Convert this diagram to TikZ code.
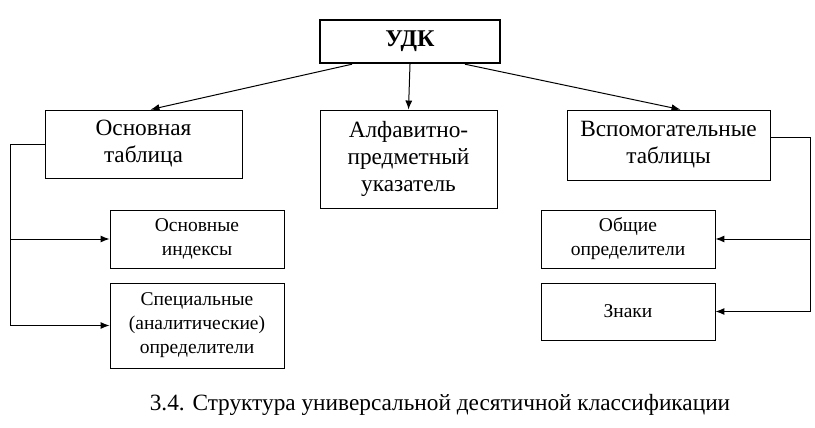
\documentclass[tikz,border=0pt]{standalone}
\usepackage{fontspec}
\setmainfont{Liberation Serif}
\usetikzlibrary{arrows.meta}
\begin{document}
\begin{tikzpicture}[x=1pt,y=-1pt,
  box/.style={draw,line width=0.9pt,align=center,inner sep=0pt},
  big/.style={box,font=\fontsize{23.3}{27}\selectfont},
  small/.style={box,font=\fontsize{19.5}{24}\selectfont},
  arr/.style={-{Latex[length=9pt,width=7pt]},line width=1pt},
  ln/.style={line width=0.9pt}]
\useasboundingbox (0,0) rectangle (815,428);
\node[box,line width=2.4pt,minimum width=180,minimum height=43,font=\fontsize{24}{28}\selectfont\bfseries] (udk) at (410,41.5) {УДК};
\node[big,minimum width=197,minimum height=68] (osn) at (143.5,144) {Основная\\таблица};
\node[big,minimum width=177,minimum height=98] (alf) at (408.5,159) {Алфавитно-\\предметный\\указатель};
\node[big,minimum width=203,minimum height=70] (vsp) at (668.5,145) {Вспомогательные\\таблицы};
\node[small,minimum width=174,minimum height=58] (oi) at (197,239) {Основные\\индексы};
\node[small,minimum width=174,minimum height=85] (sp) at (197,325.5) {Специальные\\(аналитические)\\определители};
\node[small,minimum width=174,minimum height=58] (oo) at (628,239) {Общие\\определители};
\node[small,minimum width=174,minimum height=57] (zn) at (628,311.5) {Знаки};
\node[font=\fontsize{23.3}{27}\selectfont] (cap) at (440,405) {3.4. Структура универсальной десятичной классификации};
\draw[arr] ([xshift=-58]udk.south) -- ([xshift=7]osn.north);
\draw[arr] (udk.south) -- (alf.north);
\draw[arr] ([xshift=55]udk.south) -- ([xshift=12]vsp.north);
\coordinate (l1) at (10,144);
\coordinate (l2) at (10,325.5);
\draw[ln] (osn.west) -- (l1) -- (l2);
\draw[arr] (oi.west -| l1) -- (oi.west);
\draw[arr] (l2) -- (sp.west);
\coordinate (r1) at (810,137);
\coordinate (r2) at (810,311.5);
\draw[ln] (vsp.east |- r1) -- (r1) -- (r2);
\draw[arr] (oo.east -| r1) -- (oo.east);
\draw[arr] (r2) -- (zn.east);
\end{tikzpicture}
\end{document}
